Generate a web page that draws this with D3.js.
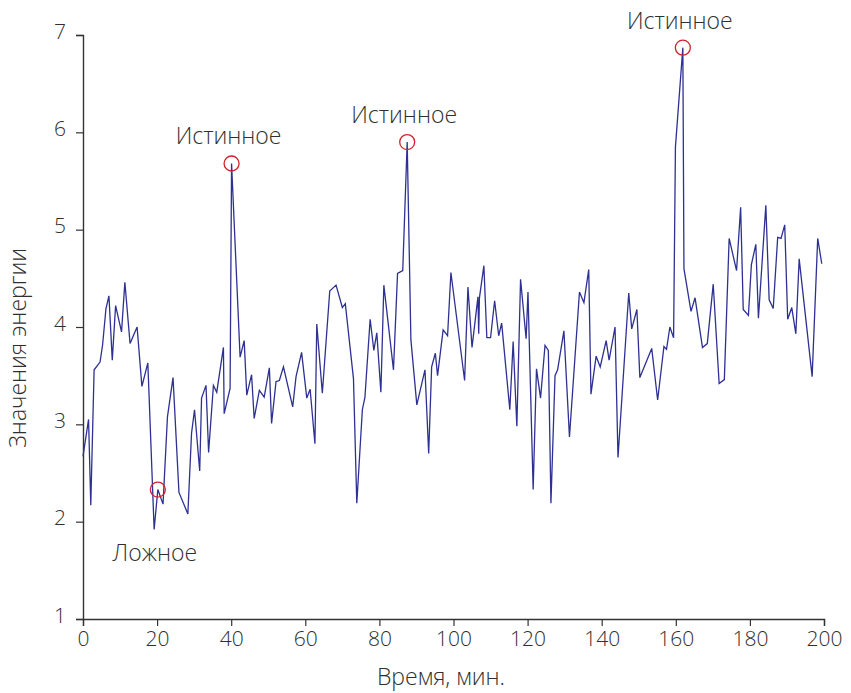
<!DOCTYPE html>
<html>
<head>
<meta charset="utf-8">
<script src="https://cdn.jsdelivr.net/npm/d3@7"></script>
<style>
  html, body { margin: 0; padding: 0; background: #fff; }
  svg { display: block; font-family: "Open Sans", Lato, sans-serif; }
  .tick text { font-size: 21px; fill: #2f2f2f; font-weight: 300; }
</style>
</head>
<body>
<svg id="chart" width="851" height="693"></svg>
<script>
// Energy values over time (minutes)
const times = [
  0,1.5,2.1,3,4.6,5.3,6.2,7,7.9,8.8,10.4,11.3,12.7,14.6,15.9,17.5,19.2,20.2,21.6,22.8,24.3,25.9,28.3,29.3,30.1,31.5,32,33.2,
  33.9,35.2,36.1,37.9,38.1,39.7,40.1,42.4,43.5,44.2,45.5,46.2,47.6,48.9,50.3,50.9,52.1,53,54.1,56.6,57.5,59,60.4,61.3,62.6,63.1,64.6,
  66.6,68.3,70,70.8,73,73.9,75.4,76.1,77.5,78.5,79.3,80.4,81.2,83.8,84.9,86.3,87.5,88.5,90.1,92.3,93.3,94.1,95.1,95.7,97.2,98.4,
  99.3,103,103.9,105,106.6,106.8,107,108.2,109,110,111.1,112.2,113,115.2,116.1,117.1,118.1,119.6,120.1,121.5,122.4,123.5,124.7,125.6,126.3,127.4,128.1,129.8,131.3,
  134,135.2,136.5,137.1,138.5,139.6,141.2,142,143.6,144.4,147.3,148.1,149.5,150.3,153.5,155.1,156.8,157.5,158.4,159.4,159.9,161.9,162.2,
  164.1,165.2,167.2,168.5,170.1,171.7,173.1,174.4,176.4,177.5,178.2,179.6,180.4,181.6,182.3,184.3,185.2,186.3,187.5,188.4,189.4,190.2,191.3,192.4,193.3,196.8,198.3,199.4
];
const energy = [
  2.67,3.05,2.17,3.56,3.64,3.82,4.19,4.32,3.66,4.22,3.95,4.46,3.83,4.0,3.39,3.63,1.92,2.33,2.18,3.08,3.48,2.3,2.08,2.91,3.15,2.52,3.27,3.40,
  2.71,3.40,3.33,3.79,3.11,3.37,5.68,3.69,3.86,3.30,3.51,3.06,3.35,3.28,3.58,3.01,3.44,3.45,3.59,3.18,3.49,3.74,3.27,3.36,2.80,4.03,3.32,
  4.37,4.43,4.20,4.24,3.47,2.19,3.15,3.28,4.08,3.76,3.94,3.33,4.43,3.56,4.55,4.58,5.90,3.87,3.20,3.56,2.70,3.59,3.73,3.50,3.97,3.91,
  4.56,3.45,4.41,3.79,4.31,3.93,4.30,4.63,3.89,3.89,4.27,3.91,4.04,3.15,3.85,2.98,4.49,3.88,4.36,2.33,3.57,3.27,3.81,3.76,2.19,3.50,3.56,3.96,2.87,
  4.36,4.25,4.59,3.31,3.70,3.59,3.86,3.66,4.00,2.66,4.35,3.98,4.18,3.48,3.78,3.25,3.80,3.77,4.00,3.89,5.85,6.87,4.60,
  4.16,4.30,3.79,3.83,4.44,3.42,3.46,4.91,4.58,5.23,4.18,4.12,4.64,4.85,4.09,5.25,4.28,4.19,4.92,4.91,5.05,4.08,4.20,3.93,4.70,3.49,4.91,4.65
];

// Detected peaks and their classification
const markTimes = [20.2, 40.1, 87.5, 161.9];
const markLabels = ["Ложное", "Истинное", "Истинное", "Истинное"];
const markIsTrue = [false, true, true, true];

const xTicks = [0, 20, 40, 60, 80, 100, 120, 140, 160, 180, 200];
const yTicks = [1, 2, 3, 4, 5, 6, 7];

const xTitle = "Время, мин.";
const yTitle = "Значения энергии";

const svg = d3.select("#chart");
const margin = { left: 83, right: 27, top: 35, bottom: 74 };
const W = 851, H = 693;
const textColor = "#2f2f2f";
const labelFont = 23;

const x = d3.scaleLinear().domain([0, 200]).range([margin.left, W - margin.right]);
const y = d3.scaleLinear().domain([1, 7]).range([H - margin.bottom, margin.top]);

const data = times.map((t, i) => ({ t, v: energy[i] }));

// Axes
const axisColor = "#333";
const gx = svg.append("g")
  .attr("transform", `translate(0,${y(1)})`)
  .call(d3.axisBottom(x).tickValues(xTicks).tickSize(7).tickPadding(5).tickFormat(d3.format("d")));
const gy = svg.append("g")
  .attr("transform", `translate(${x(0)},0)`)
  .call(d3.axisLeft(y).tickValues(yTicks).tickSize(7).tickPadding(10).tickFormat(d3.format("d")));
[gx, gy].forEach(g => {
  g.select(".domain").attr("stroke", axisColor).attr("stroke-width", 1.4);
  g.selectAll(".tick line").attr("stroke", axisColor).attr("stroke-width", 1.2);
  g.selectAll(".tick text").attr("font-family", "'Open Sans', Lato, sans-serif");
});
gy.selectAll(".tick text").attr("dy", "0.15em");

// Series line
const line = d3.line().x(d => x(d.t)).y(d => y(d.v));
svg.append("path")
  .datum(data)
  .attr("fill", "none")
  .attr("stroke", "#2e3192")
  .attr("stroke-width", 1.3)
  .attr("stroke-linejoin", "miter")
  .attr("d", line);

// Peak markers
const marks = markTimes.map((t, i) => {
  const d = data.find(p => p.t === t);
  return { t, v: d.v, label: markLabels[i], isTrue: markIsTrue[i] };
});
svg.selectAll("circle.mark")
  .data(marks)
  .join("circle")
  .attr("class", "mark")
  .attr("cx", d => x(d.t))
  .attr("cy", d => y(d.v))
  .attr("r", 7.5)
  .attr("fill", "none")
  .attr("stroke", "#d4202a")
  .attr("stroke-width", 1.3);

svg.selectAll("text.mark-label")
  .data(marks)
  .join("text")
  .attr("class", "mark-label")
  .attr("x", d => x(d.t) - 3)
  .attr("y", d => d.isTrue ? y(d.v) - 19 : y(d.v) + 71)
  .attr("text-anchor", "middle")
  .attr("font-size", labelFont)
  .attr("font-weight", 300)
  .attr("fill", textColor)
  .text(d => d.label);

// Axis titles
svg.append("text")
  .attr("x", 441)
  .attr("y", 685)
  .attr("text-anchor", "middle")
  .attr("font-size", labelFont)
  .attr("font-weight", 300)
  .attr("fill", textColor)
  .text(xTitle);
svg.append("text")
  .attr("transform", "translate(26,348) rotate(-90)")
  .attr("text-anchor", "middle")
  .attr("font-size", labelFont)
  .attr("font-weight", 300)
  .attr("fill", textColor)
  .text(yTitle);
</script>
</body>
</html>
